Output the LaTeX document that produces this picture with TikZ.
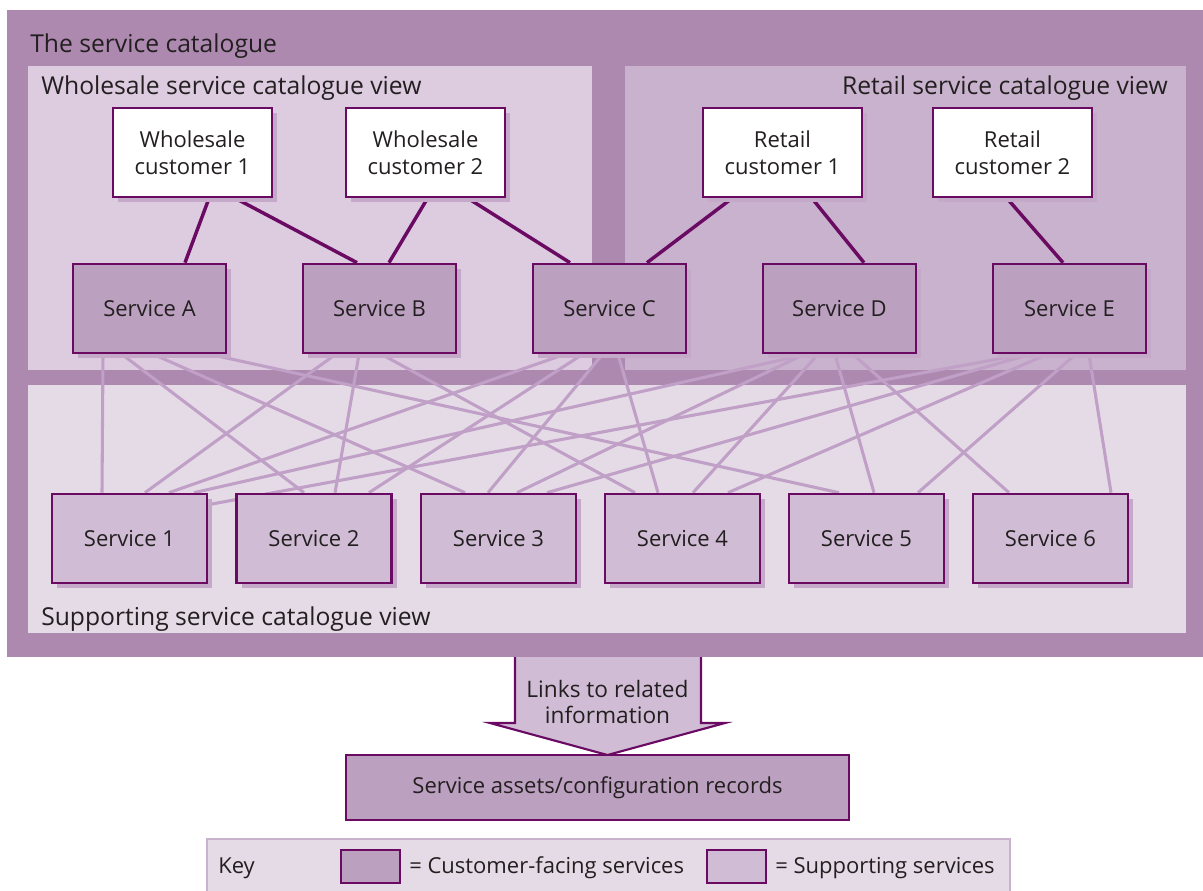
\documentclass[tikz,border=0pt]{standalone}
\usepackage{fontspec}
\setmainfont{Open Sans}
\usepackage{xcolor}
\usetikzlibrary{calc,shadows}
\definecolor{scOuter}{HTML}{AD89B0}
\definecolor{scWhole}{HTML}{DDCBDF}
\definecolor{scRetail}{HTML}{C9B2CD}
\definecolor{scSupport}{HTML}{E5DBE7}
\definecolor{scFace}{HTML}{BCA0C0}
\definecolor{scSupp}{HTML}{D0BCD4}
\definecolor{scPlum}{HTML}{6B0A63}
\definecolor{scWire}{HTML}{C0A0C6}
\definecolor{scShadow}{HTML}{C4AAC8}
\definecolor{scKeyEdge}{HTML}{C9B2CD}
\definecolor{scInk}{HTML}{231F20}
\newcommand{\cust}[2]{#1\\#2}
\pgfdeclarelayer{panel}
\pgfdeclarelayer{wires}
\pgfsetlayers{panel,wires,main}

\begin{document}
\begin{tikzpicture}[
  x=0.75pt, y=-0.75pt,
  font=\fontsize{16.5}{20.25}\selectfont, text=scInk,
  boxshadow/.style={drop shadow={shadow xshift=3.75pt, shadow yshift=-3.75pt, fill=scShadow, opacity=1}},
  custbox/.style={boxshadow, draw=scPlum, line width=2pt, fill=white, align=center,
                  minimum width=119.25pt, minimum height=66.75pt, inner sep=2pt},
  facebox/.style={boxshadow, draw=scPlum, line width=2pt, fill=scFace,
                  minimum width=114.75pt, minimum height=66.75pt},
  supbox/.style={boxshadow, draw=scPlum, line width=2pt, fill=scSupp,
                 minimum width=116.25pt, minimum height=66.75pt},
  swatch/.style={draw=scPlum, line width=1.6pt, minimum width=44.25pt, minimum height=24.75pt},
  vlabel/.style={inner sep=0pt, font=\fontsize{18.5}{22}\selectfont},
  klabel/.style={inner sep=0pt},
  link/.style={draw=scPlum, line width=2.6pt},
  wire/.style={draw=scWire, line width=2.3pt},
]
\useasboundingbox (0,0) rectangle (1203,890);

% -- catalogue panels ---------------------------------------------------------
\begin{pgfonlayer}{panel}
  \fill[scOuter]   (7,10)   rectangle (1203,657);
  \fill[scWhole]   (28,66)  rectangle (592,370);
  \fill[scRetail]  (625,66) rectangle (1186,370);
  \fill[scSupport] (28,385) rectangle (1186,633);
\end{pgfonlayer}

\node[vlabel, anchor=base west] (tcat)  at (30,52)   {The service catalogue};
\node[vlabel, anchor=base west] (vwhol) at (41,94)   {Wholesale service catalogue view};
\node[vlabel, anchor=base east] (vret)  at (1168,94) {Retail service catalogue view};
\node[vlabel, anchor=base west] (vsup)  at (41,625)  {Supporting service catalogue view};

% -- customers ------------------------------------------------------------------
\node[custbox] (w1) at (192.5,152.5)  {\cust{Wholesale}{customer 1}};
\node[custbox] (w2) at (425.5,152.5)  {\cust{Wholesale}{customer 2}};
\node[custbox] (r1) at (782.5,152.5)  {\cust{Retail}{customer 1}};
\node[custbox] (r2) at (1012.5,152.5) {\cust{Retail}{customer 2}};

% -- customer-facing services ---------------------------------------------------
\node[facebox] (sa) at (149.5,308.5)  {Service A};
\node[facebox] (sb) at (379.5,308.5)  {Service B};
\node[facebox] (sc) at (609.5,308.5)  {Service C};
\node[facebox] (sd) at (839.5,308.5)  {Service D};
\node[facebox] (se) at (1069.5,308.5) {Service E};

% -- supporting services --------------------------------------------------------
\node[supbox] (s1) at (129.5,538.5)  {Service 1};
\node[supbox] (s2) at (314,538.5)    {Service 2};
\node[supbox] (s3) at (498.5,538.5)  {Service 3};
\node[supbox] (s4) at (682.5,538.5)  {Service 4};
\node[supbox] (s5) at (866.5,538.5)  {Service 5};
\node[supbox] (s6) at (1050.5,538.5) {Service 6};

% -- connectors (under the boxes) -----------------------------------------------
\begin{pgfonlayer}{wires}
  \foreach \f/\fx/\t/\tx in {w1/16.5/sa/35.5, w1/43/sb/-22.5, w2/2/sb/9.5, w2/42.5/sc/-39.5,
                             r1/-50.5/sc/37.5, r1/29.5/sd/24.5, r2/-5.5/se/-6.5}
    \draw[link] ($(\f.south)+(\fx,0)$) -- ($(\t.north)+(\tx,0)$);

  \foreach \f/\fx/\t/\tx in {sa/-46.5/s1/-27.5, sa/-27.5/s2/-10, sa/4/s3/-33.5, sa/60.5/s5/-27.5,
                             sb/-44/s1/15.5, sb/-20.5/s2/21, sb/2/s4/-47.5,
                             sc/-45/s1/39.5, sc/-27/s2/55, sc/-7/s3/-10.5, sc/8.5/s4/-24.5,
                             sd/-33.5/s1/64.5, sd/-35.5/s3/18.5, sd/-21.5/s4/10.5, sd/-4.5/s5/7.5, sd/13.5/s6/-41.5,
                             se/-39.5/s3/48.5, se/-22.5/s4/45.5, se/6/s5/51.5, se/19.5/s6/60.5}
    \draw[wire] ($(\f.south)+(\fx,0)$) -- ($(\t.north)+(\tx,0)$);
  \draw[wire] ($(se.south)+(-46.5,0)$) -- ($(s1.north east)+(0,12)$);
\end{pgfonlayer}

% -- link to records ------------------------------------------------------------
\draw[draw=scPlum, line width=1.6pt, fill=scSupp, line join=miter]
  (515,657) -- (515,723) -- (490,723) -- (607.5,755) -- (725,723) -- (701,723) -- (701,657);
\node[align=center, font=\fontsize{17}{20}\selectfont] (lnk) at (607.5,702) {Links to related\\information};
\node[draw=scPlum, line width=1.6pt, fill=scFace, minimum width=377.25pt, minimum height=48.75pt]
  (rec) at (597.5,787.5) {Service assets/configuration records};

% -- key ------------------------------------------------------------------------
\fill[scSupport, draw=scKeyEdge, line width=1.5pt] (207,839) rectangle (1010,892);
\node[klabel, anchor=base west] (key) at (218,873) {Key};
\node[swatch, fill=scFace] (kface) at (370.5,866.5) {};
\node[klabel, anchor=base west] (tface) at (409,873) {= Customer-facing services};
\node[swatch, fill=scSupp] (ksup) at (736.5,866.5) {};
\node[klabel, anchor=base west] (tsup) at (775,873) {= Supporting services};
\end{tikzpicture}
\end{document}
